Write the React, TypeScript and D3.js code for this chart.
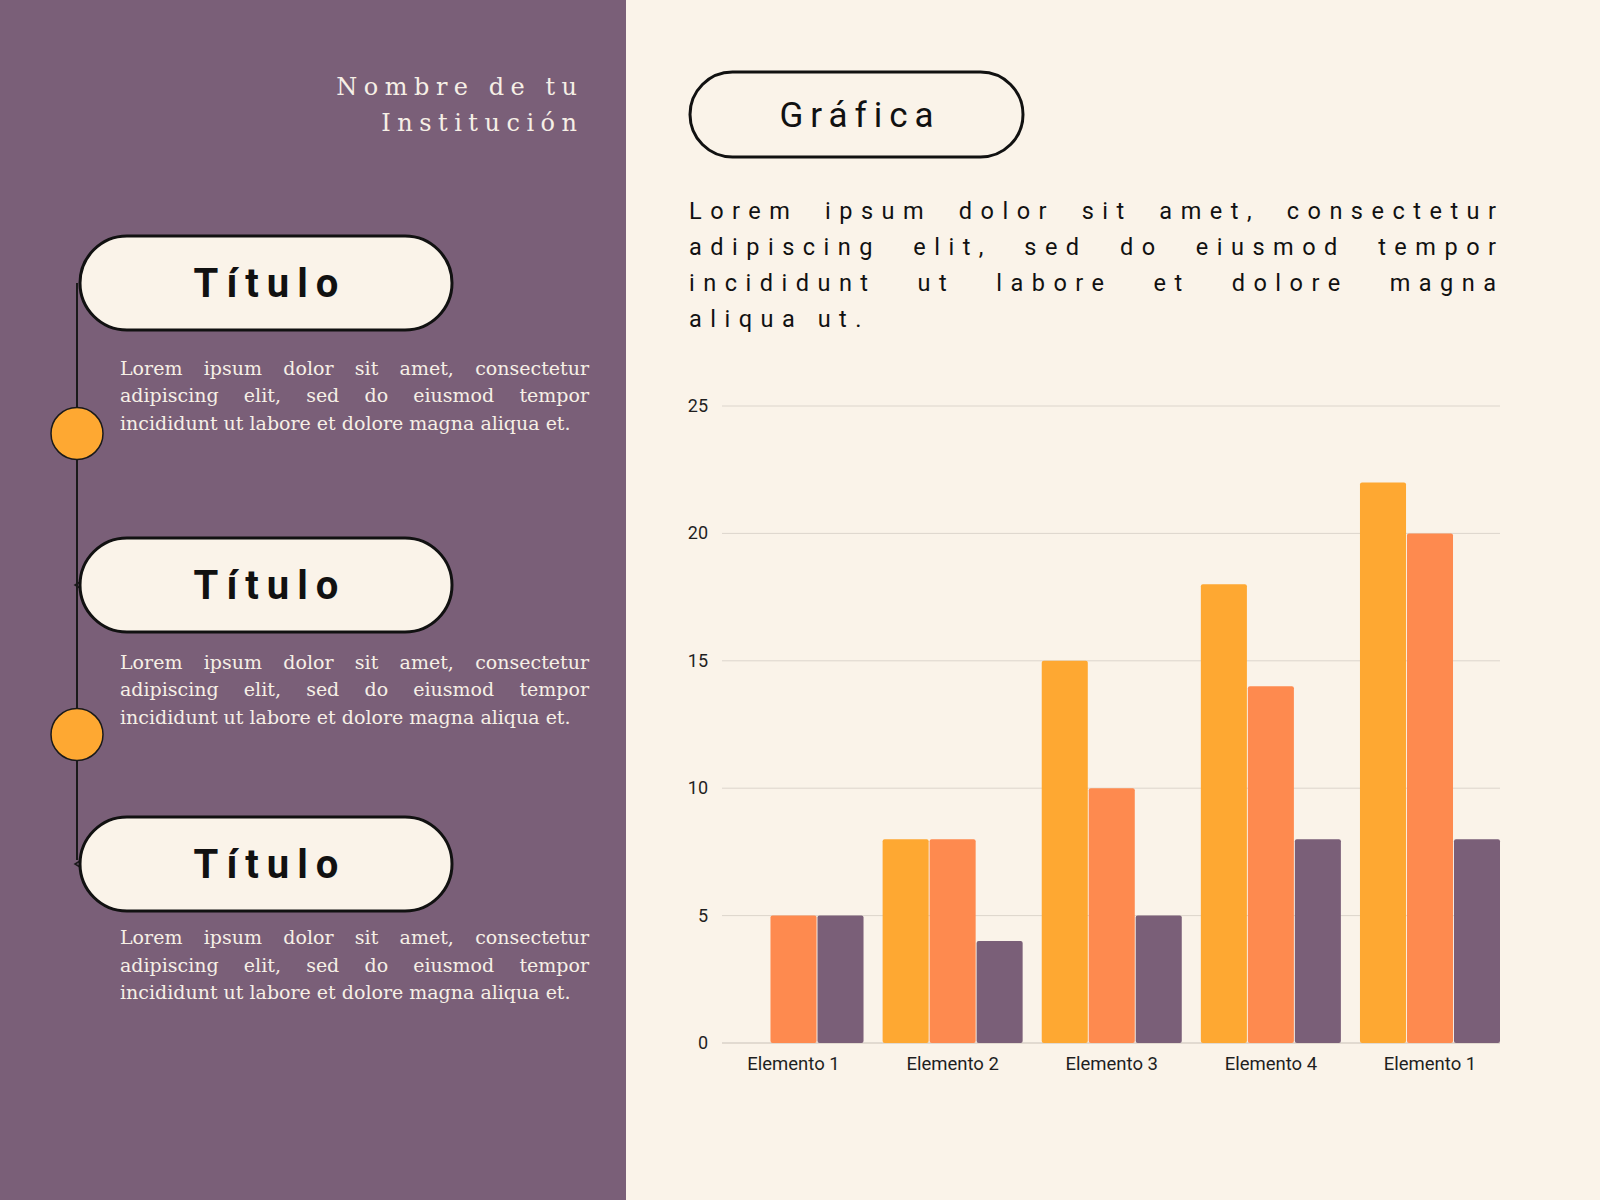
import { useEffect, useRef } from "react";
import * as d3 from "d3";

// chart data
const categories = ["Elemento 1", "Elemento 2", "Elemento 3", "Elemento 4", "Elemento 1"];
const seriesA = [0, 8, 15, 18, 22];
const seriesB = [5, 8, 10, 14, 20];
const seriesC = [5, 4, 5, 8, 8];
const yTicks = [0, 5, 10, 15, 20, 25];

// texts
const institution = ["Nombre de tu", "Institución"];
const cardTitle = "Título";
const cardBody = [
  "Lorem ipsum dolor sit amet, consectetur",
  "adipiscing elit, sed do eiusmod tempor",
  "incididunt ut labore et dolore magna aliqua et.",
];
const chartTitle = "Gráfica";
const intro = [
  "Lorem ipsum dolor sit amet, consectetur",
  "adipiscing elit, sed do eiusmod tempor",
  "incididunt ut labore et dolore magna",
  "aliqua ut.",
];

const COLORS = ["#fea832", "#fe8a4f", "#7a5f78"];
const PURPLE = "#7a5f78";
const CREAM = "#faf3e9";
const INK = "#111";

type Sel = d3.Selection<SVGGElement, unknown, null, undefined>;

// lay out one line of words so it spans exactly `width`
function justifyLine(
  g: Sel,
  line: string,
  x0: number,
  y: number,
  width: number,
  style: Record<string, string | number>,
  spread: boolean
) {
  const ls = Number(style["letter-spacing"] || 0);
  const apply = (t: d3.Selection<SVGTextElement, unknown, null, undefined>) => {
    Object.entries(style).forEach(([k, v]) => t.style(k, String(v)));
    return t;
  };
  if (!spread) {
    apply(g.append("text").attr("x", x0).attr("y", y).text(line));
    return;
  }
  const words = line.split(" ");
  const nodes = words.map((w) => apply(g.append("text").attr("y", y).text(w)));
  const widths = nodes.map((n) => n.node()!.getComputedTextLength() - ls);
  const total = d3.sum(widths);
  const gap = (width - total) / (words.length - 1);
  let x = x0;
  nodes.forEach((n, i) => {
    n.attr("x", x);
    x += widths[i] + gap;
  });
}

export default function App() {
  const svgRef = useRef<SVGSVGElement>(null);

  useEffect(() => {
    if (!svgRef.current) return;
    const svg = d3.select(svgRef.current);
    svg.selectAll("*").remove();
    const root = svg.append("g") as unknown as Sel;

    // backgrounds
    root.append("rect").attr("width", 1600).attr("height", 1200).attr("fill", CREAM);
    root.append("rect").attr("width", 626).attr("height", 1200).attr("fill", PURPLE);

    // institution name, right aligned
    const instStyle = {
      "font-family": "'DejaVu Serif', serif",
      "font-size": "24px",
      "font-weight": 300,
      "letter-spacing": 6.5,
      fill: "#f6efe6",
    };
    institution.forEach((line, i) => {
      const t = root.append("text").attr("y", 95 + i * 35.5).text(line);
      Object.entries(instStyle).forEach(([k, v]) => t.style(k, String(v)));
      const w = t.node()!.getComputedTextLength() - instStyle["letter-spacing"];
      t.attr("x", 577 - w);
    });

    // timeline
    root
      .append("line")
      .attr("x1", 77)
      .attr("x2", 77)
      .attr("y1", 283)
      .attr("y2", 860)
      .attr("stroke", "#1a1a1a")
      .attr("stroke-width", 2);

    const cardTops = [236, 538, 817];
    const bodyTops = [374.5, 668.5, 944];
    const bodyStyle = {
      "font-family": "'DejaVu Serif', serif",
      "font-size": "19px",
      fill: "#f6efe6",
    };

    cardTops.forEach((top, i) => {
      if (i > 0) {
        root
          .append("path")
          .attr("d", `M${80},${top + 44} L${75},${top + 47} L${80},${top + 50}`)
          .attr("fill", "none")
          .attr("stroke", "#1a1a1a")
          .attr("stroke-width", 1.5);
      }
      root
        .append("rect")
        .attr("x", 80)
        .attr("y", top)
        .attr("width", 372)
        .attr("height", 94)
        .attr("rx", 47)
        .attr("fill", CREAM)
        .attr("stroke", INK)
        .attr("stroke-width", 3);
      root
        .append("text")
        .attr("x", 270)
        .attr("y", top + 61)
        .attr("text-anchor", "middle")
        .style("font-family", "Roboto, sans-serif")
        .style("font-size", "40px")
        .style("font-weight", 700)
        .style("letter-spacing", "8px")
        .attr("fill", INK)
        .text(cardTitle);

      const bg = root.append("g") as unknown as Sel;
      cardBody.forEach((line, j) => {
        justifyLine(bg, line, 120, bodyTops[i] + j * 27.6, 469, bodyStyle, j < cardBody.length - 1);
      });
    });

    // timeline dots
    [433.5, 734.5].forEach((cy) => {
      root
        .append("circle")
        .attr("cx", 77)
        .attr("cy", cy)
        .attr("r", 26)
        .attr("fill", COLORS[0])
        .attr("stroke", "#1a1a1a")
        .attr("stroke-width", 1.5);
    });

    // chart title pill
    root
      .append("rect")
      .attr("x", 690)
      .attr("y", 72)
      .attr("width", 333)
      .attr("height", 85)
      .attr("rx", 42.5)
      .attr("fill", CREAM)
      .attr("stroke", INK)
      .attr("stroke-width", 3);
    root
      .append("text")
      .attr("x", 860)
      .attr("y", 127)
      .attr("text-anchor", "middle")
      .style("font-family", "Roboto, sans-serif")
      .style("font-size", "35px")
      .style("letter-spacing", "7px")
      .attr("fill", INK)
      .text(chartTitle);

    // intro paragraph
    const introStyle = {
      "font-family": "Roboto, sans-serif",
      "font-size": "23.5px",
      "letter-spacing": 8.5,
      fill: INK,
    };
    const ig = root.append("g") as unknown as Sel;
    intro.forEach((line, j) => {
      justifyLine(ig, line, 689, 218.5 + j * 36, 807, introStyle, j < intro.length - 1);
    });

    // bar chart
    const x0 = d3
      .scaleBand<number>()
      .domain(categories.map((_, i) => i))
      .range([723.5, 1500])
      .paddingInner(0.12)
      .paddingOuter(0);
    const x1 = d3
      .scaleBand<number>()
      .domain([0, 1, 2])
      .range([0, x0.bandwidth()])
      .paddingInner(0.02);
    const y = d3.scaleLinear().domain([0, 25]).range([1043, 406]);

    const chart = root.append("g");

    chart
      .selectAll(".grid")
      .data(yTicks)
      .join("line")
      .attr("x1", 722)
      .attr("x2", 1500)
      .attr("y1", (d) => y(d))
      .attr("y2", (d) => y(d))
      .attr("stroke", (d) => (d === 0 ? "#c9c1b8" : "#dcd5cc"))
      .attr("stroke-width", 1);

    chart
      .selectAll(".ytick")
      .data(yTicks)
      .join("text")
      .attr("x", 708)
      .attr("y", (d) => y(d) + 6)
      .attr("text-anchor", "end")
      .style("font-family", "Roboto, sans-serif")
      .style("font-size", "18px")
      .attr("fill", "#1f1f1f")
      .text((d) => d);

    const series = [seriesA, seriesB, seriesC];
    series.forEach((vals, s) => {
      chart
        .selectAll(`.bar-${s}`)
        .data(vals.map((v, i) => ({ v, i })).filter((d) => d.v > 0))
        .join("rect")
        .attr("x", (d) => x0(d.i)! + x1(s)!)
        .attr("width", x1.bandwidth())
        .attr("y", (d) => y(d.v))
        .attr("height", (d) => y(0) - y(d.v))
        .attr("rx", 2)
        .attr("fill", COLORS[s]);
    });

    chart
      .selectAll(".xlab")
      .data(categories)
      .join("text")
      .attr("x", (_, i) => x0(i)! + x0.bandwidth() / 2)
      .attr("y", 1070)
      .attr("text-anchor", "middle")
      .style("font-family", "Roboto, sans-serif")
      .style("font-size", "18.5px")
      .attr("fill", "#1f1f1f")
      .text((d) => d);
  }, []);

  return (
    <svg
      ref={svgRef}
      width={1600}
      height={1200}
      viewBox="0 0 1600 1200"
      style={{ position: "absolute", left: 0, top: 0, display: "block" }}
    />
  );
}
